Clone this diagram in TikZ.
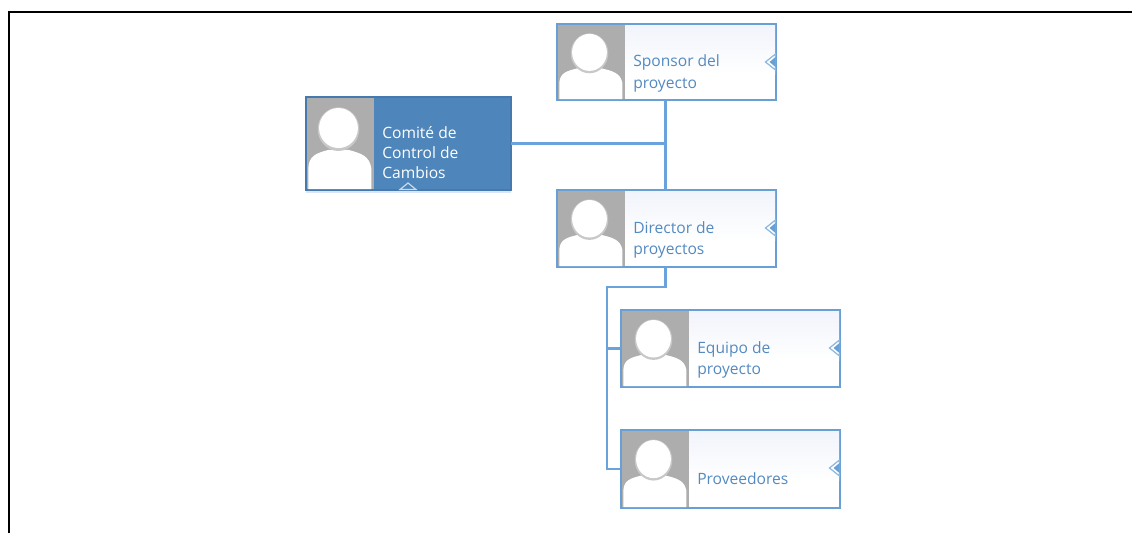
\documentclass[tikz,border=0pt]{standalone}
\usepackage{fontspec}
\setmainfont{Open Sans}
\usetikzlibrary{calc}
\definecolor{edgeblue}{RGB}{104,160,214}
\definecolor{linkblue}{RGB}{106,163,219}
\definecolor{txtblue}{RGB}{84,138,192}
\definecolor{comfill}{RGB}{78,133,186}
\definecolor{comedge}{RGB}{70,122,175}
\definecolor{photogray}{RGB}{173,173,173}
\definecolor{halo}{RGB}{200,200,200}
\definecolor{tint}{RGB}{241,244,251}
\tikzset{
  cardbox/.style={draw=edgeblue,line width=0.9pt,inner sep=0pt,anchor=north west,fill=white},
  cardtext/.style={anchor=west,align=left,inner sep=0pt,text=txtblue,font=\fontsize{11.7pt}{16.3pt}\selectfont},
  comtext/.style={cardtext,text=white,font=\fontsize{11.7pt}{15pt}\selectfont},
  linkline/.style={draw=linkblue,line width=1.9pt},
  frameline/.style={draw=black,line width=1.6pt},
}
% #1 x, #2 y, #3 w, #4 h, #5 head cy, #6 head rx, #7 head ry, #8 shoulder top
\newcommand{\photofig}[8]{%
  \begin{scope}[shift={(#1,#2)},xscale=#3,yscale=#4]
    \fill[photogray] (0,0) rectangle (1,1);
    \fill[white] (0.02,1) -- (0.02,{#8+0.2}) .. controls (0.03,{#8+0.07}) and (0.12,{#8+0.04}) .. (0.32,#8) -- (0.62,#8) .. controls (0.82,{#8+0.04}) and (0.93,{#8+0.07}) .. (0.96,{#8+0.2}) -- (0.96,1) -- cycle;
    \fill[halo] (0.47,{#5+0.012}) ellipse [x radius={#6+0.02},y radius={#7+0.02}];
    \fill[white] (0.47,#5) ellipse [x radius=#6,y radius=#7];
  \end{scope}}
% #1 x of right edge, #2 y of middle
\newcommand{\sidetab}[2]{%
  \fill[white,draw=edgeblue!75,line width=0.9pt] (#1,{#2-8}) -- ({#1-10},#2) -- (#1,{#2+8}) -- cycle;
  \fill[edgeblue] (#1,{#2-5}) -- ({#1-6},#2) -- (#1,{#2+5}) -- cycle;}
\begin{document}
\begin{tikzpicture}[x=0.75pt,y=-0.75pt]
\useasboundingbox (0,0) rectangle (1132,533);
\path[frameline] (9,533) -- (9,12) -- (1132,12);

% nodes (boxes)
\node[cardbox,minimum width=218*0.75pt,minimum height=75*0.75pt] (sponsor) at (557,24) {};
\node[cardbox,minimum width=204*0.75pt,minimum height=92*0.75pt,fill=comfill,draw=comedge] (comite) at (306,97) {};
\node[cardbox,minimum width=218*0.75pt,minimum height=76*0.75pt] (director) at (557,190) {};
\node[cardbox,minimum width=218*0.75pt,minimum height=76*0.75pt] (equipo) at (621,310) {};
\node[cardbox,minimum width=218*0.75pt,minimum height=77*0.75pt] (proveedores) at (621,430) {};

% gradients to the right of the photos
\foreach \nm in {sponsor,director,equipo,proveedores}{
  \shade[top color=tint,bottom color=white]
    ($(\nm.north west)+(68,1)$) rectangle ($(\nm.north east)+(-1,50)$);
}

% photos
\photofig{558}{25}{67}{74}{.37}{.26}{.25}{.58}
\photofig{307}{98}{67}{91}{.33}{.29}{.22}{.57}
\photofig{558}{191}{67}{75}{.37}{.26}{.25}{.58}
\photofig{622}{311}{67}{75}{.37}{.26}{.25}{.58}
\photofig{622}{431}{67}{76}{.37}{.26}{.25}{.58}

% redraw outlines above photos
\draw[edgeblue,line width=0.9pt] (sponsor.north west) rectangle (sponsor.south east);
\draw[comedge,line width=0.9pt] (comite.north west) rectangle (comite.south east);
\draw[edgeblue,line width=0.9pt] (director.north west) rectangle (director.south east);
\draw[edgeblue,line width=0.9pt] (equipo.north west) rectangle (equipo.south east);
\draw[edgeblue,line width=0.9pt] (proveedores.north west) rectangle (proveedores.south east);
\draw[edgeblue!25,line width=1.2pt] ([yshift=-1.4pt]comite.south west) -- ([yshift=-1.4pt]comite.south east);

% junctions
\coordinate (jtop) at ($(sponsor.south)+(-1,0)$);
\coordinate (jdir) at ($(director.north)+(-1,0)$);
\coordinate (jbot) at ($(director.south)+(-1,0)$);
\coordinate (jbus) at (607,287);
\coordinate (jcom) at (jtop |- comite.east);

% connectors
\draw[linkline] (jtop) -- (jdir);
\draw[linkline] (comite.east) -- (jcom);
\draw[linkline] (jbot) |- (jbus) -- (jbus |- proveedores.west) -- (proveedores.west);
\draw[linkline] (jbus |- equipo.west) -- (equipo.west);

% tabs
\sidetab{775.5}{62}
\sidetab{775.5}{228}
\sidetab{839.5}{348}
\sidetab{839.5}{468}
\fill[comfill,draw=white!70!comfill,line width=0.9pt] (400,189.5) -- (408,183) -- (416,189.5) -- cycle;

% labels
\node[cardtext] (t1) at (633,73.5) {Sponsor del\\proyecto};
\node[comtext] (t2) at (382,153) {Comité de\\Control de\\Cambios};
\node[cardtext] (t3) at (633,240) {Director de\\proyectos};
\node[cardtext] (t4) at (697,360) {Equipo de\\proyecto};
\node[cardtext] (t5) at (697,478.5) {Proveedores};
\end{tikzpicture}
\end{document}
